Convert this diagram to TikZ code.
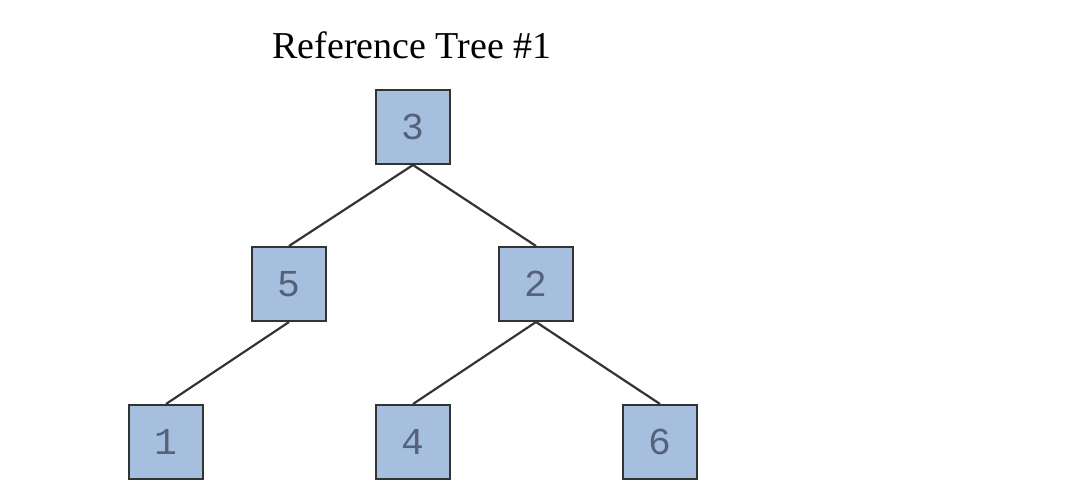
\documentclass[tikz,border=0pt]{standalone}
\usepackage{fontspec}
\setmainfont{Liberation Serif}
\newfontfamily\treemono{Liberation Mono}
\usetikzlibrary{positioning}
\definecolor{nodeblue}{HTML}{A7BFDE}
\definecolor{edgegray}{HTML}{333333}
\definecolor{digitgray}{HTML}{56627A}

\begin{document}
\begin{tikzpicture}[x=1pt,y=-1pt,font=\fontsize{38}{40}\selectfont]
\tikzset{tnode/.style={draw=edgegray,fill=nodeblue,line width=2pt,minimum size=74pt,inner sep=0pt,text=digitgray,font=\treemono\fontsize{38}{38}\selectfont}}
\tikzset{tedge/.style={draw=edgegray,line width=2.2pt}}
\useasboundingbox (0,0) rectangle (1068,500);
\node (title) at (412,45) {Reference Tree \#1};
\node[tnode] (n3) at (413,127) {3};
\node[tnode,below left=81pt and 48pt of n3] (n5) {5};
\node[tnode,below right=81pt and 47pt of n3] (n2) {2};
\node[tnode,below left=82pt and 47pt of n5] (n1) {1};
\node[tnode,below left=82pt and 47pt of n2] (n4) {4};
\node[tnode,below right=82pt and 48pt of n2] (n6) {6};
\draw[tedge] (n3.south) -- (n5.north);
\draw[tedge] (n3.south) -- (n2.north);
\draw[tedge] (n5.south) -- (n1.north);
\draw[tedge] (n2.south) -- (n4.north);
\draw[tedge] (n2.south) -- (n6.north);
\end{tikzpicture}
\end{document}
